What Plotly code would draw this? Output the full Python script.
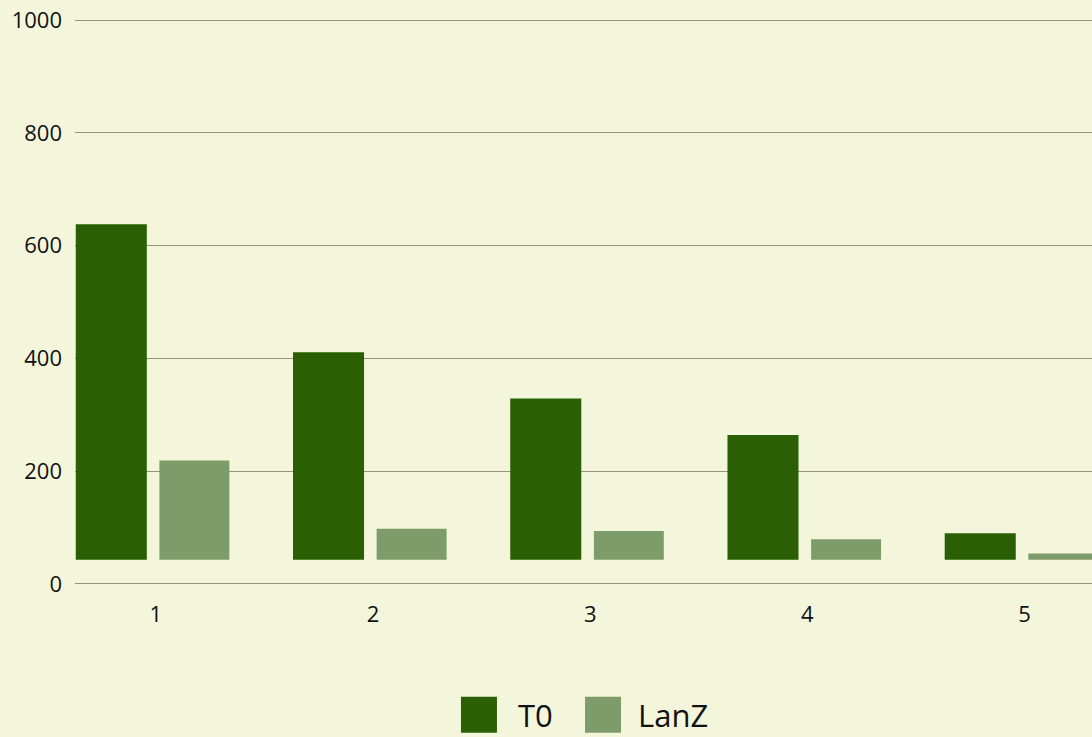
import plotly.graph_objects as go

# ---- data ----
categories = [1, 2, 3, 4, 5]
tick_labels = ["1", "2", "3", "4", "5"]
series_names = ["T0", "LanZ"]
t0_values = [638, 411, 329, 264, 90]
lanz_values = [219, 98, 94, 79, 54]
bar_base = 42.6
y_ticks = [0, 200, 400, 600, 800, 1000]

# ---- style ----
BG = "#f4f6dc"
GRID = "#9c927a"
C_T0 = "#2b5f03"
C_LANZ = "#7e9c69"
FONT = "Open Sans"

fig = go.Figure()
fig.add_trace(go.Bar(
    x=categories, y=[v - bar_base for v in t0_values], base=bar_base,
    name=series_names[0], marker=dict(color=C_T0, line=dict(width=0)),
    width=0.327, offset=-0.368, showlegend=False,
))
fig.add_trace(go.Bar(
    x=categories, y=[v - bar_base for v in lanz_values], base=bar_base,
    name=series_names[1], marker=dict(color=C_LANZ, line=dict(width=0)),
    width=0.322, offset=0.017, showlegend=False,
))

# plot area geometry: value 0 at y=584px, 1000 at y=20px
Y_LO, Y_HI = -2, 1002
PX_PER_UNIT = 0.564
top_m = 20 - (Y_HI - 1000) * PX_PER_UNIT
bot_m = 737 - 584 - (0 - Y_LO) * PX_PER_UNIT
plot_h = 737 - top_m - bot_m


def py_to_paper(py):
    return (737 - bot_m - py) / plot_h


# custom legend (large squares + labels) below the chart
legend_items = [
    (series_names[0], C_T0, 0.3795, 0.4336),
    (series_names[1], C_LANZ, 0.5015, 0.5516),
]
for name, color, sx, tx in legend_items:
    fig.add_shape(type="rect", xref="paper", yref="paper",
                  x0=sx, x1=sx + 0.0354, y0=py_to_paper(697), y1=py_to_paper(733),
                  fillcolor=color, line=dict(width=0))
    fig.add_annotation(xref="paper", yref="paper", x=tx, y=py_to_paper(715),
                       text=name, showarrow=False, xanchor="left", yanchor="middle",
                       font=dict(family=FONT, size=31, color="#111111"))

fig.update_layout(
    width=1092, height=737,
    margin=dict(l=75, r=0, t=top_m, b=bot_m, pad=0),
    paper_bgcolor=BG, plot_bgcolor=BG,
    font=dict(family=FONT, size=22, color="#111111"),
    barmode="group",
    showlegend=False,
)
fig.update_xaxes(
    range=[0.6285, 5.31], tickmode="array", tickvals=categories, ticktext=tick_labels,
    showgrid=False, zeroline=False, showline=False, ticks="",
    ticklabelstandoff=14,
    tickfont=dict(family=FONT, size=22, color="#111111"),
)
fig.update_yaxes(
    range=[Y_LO, Y_HI], tickmode="array", tickvals=y_ticks,
    showgrid=True, gridcolor=GRID, gridwidth=1, zeroline=False, showline=False, ticks="",
    ticklabelstandoff=12, tickfont=dict(family=FONT, size=22, color="#111111"),
)

fig.write_html(
    "out.html",
    config={"displayModeBar": False},
    post_script="document.body.style.margin='0';document.body.style.background='" + BG + "';",
)
